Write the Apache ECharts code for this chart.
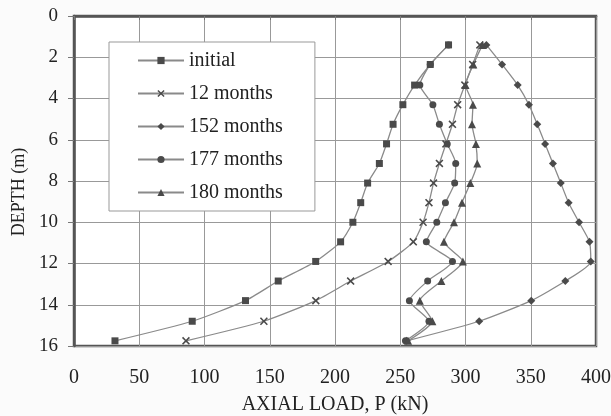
<!DOCTYPE html>
<html>
<head>
<meta charset="utf-8">
<script src="https://cdn.jsdelivr.net/npm/echarts@6/dist/echarts.min.js"></script>
<style>html,body{margin:0;padding:0;background:#fbfbfb;}#c{width:611px;height:416px;}</style>
</head>
<body>
<div id="c"></div>
<script>
const depths = [1.4, 2.35, 3.35, 4.3, 5.25, 6.2, 7.15, 8.1, 9.05, 10.0, 10.95, 11.9, 12.85, 13.8, 14.8, 15.75];
const seriesNames = ['initial', '12 months', '152 months', '177 months', '180 months'];
const loadInitial = [287, 273, 261, 252, 244.5, 239.5, 234, 225, 219.7, 213.7, 204.3, 185.2, 156.5, 131.4, 90.6, 31.4];
const load12 = [311, 305.5, 299.5, 294, 290, 285, 280, 275.5, 272, 267.5, 260, 240.7, 212, 185.3, 145.5, 85.8];
const load152 = [316, 328, 340, 348.6, 355, 361, 367, 373, 379, 387, 395, 396, 376.5, 350.4, 310.5, 255];
const load177 = [287, 273, 265, 275, 280, 286, 292.5, 291.7, 284.6, 278, 270, 290, 271, 257, 272, 254];
const load180 = [313, 306, 300, 305.7, 305, 308, 309, 303.7, 297.3, 291.2, 283.5, 298, 281.5, 265, 274.6, 256];
const xTicks = [0, 50, 100, 150, 200, 250, 300, 350, 400];
const yTicks = [0, 2, 4, 6, 8, 10, 12, 14, 16];

const loads = [loadInitial, load12, load152, load177, load180];
const xPath = 'path://M0,1.4 L1.4,0 L5,3.6 L8.6,0 L10,1.4 L6.4,5 L10,8.6 L8.6,10 L5,6.4 L1.4,10 L0,8.6 L3.6,5 Z';
const symbols = ['rect', xPath, 'diamond', 'circle', 'triangle'];
const symbolSizes = [7, 8, 8, 7, 8];
const font = '"Liberation Serif", "Times New Roman", serif';

const chart = echarts.init(document.getElementById('c'), null, {renderer: 'canvas'});
const series = seriesNames.map((name, i) => ({
  name: name,
  type: 'line',
  data: depths.map((d, j) => [loads[i][j], d]),
  symbol: symbols[i],
  symbolSize: symbolSizes[i],
  smooth: 0.2,
  lineStyle: {color: '#8a8a8a', width: 1.3},
  itemStyle: {color: '#4a4a4a'},
  z: 3
}));

chart.setOption({
  backgroundColor: '#fbfbfb',
  animation: false,
  grid: {left: 74, right: 15, top: 16, bottom: 70, outerBoundsMode: 'none', containLabel: false, show: true, backgroundColor: '#ffffff', borderColor: '#555', borderWidth: 2.5},
  xAxis: {
    type: 'value', min: xTicks[0], max: xTicks[xTicks.length - 1], interval: 50,
    name: 'AXIAL LOAD, P (kN)', nameLocation: 'middle', nameGap: 49,
    nameTextStyle: {fontFamily: font, fontSize: 20, color: '#222'},
    axisLine: {show: true, lineStyle: {color: '#555', width: 2.5}},
    axisTick: {show: true, length: 4, lineStyle: {color: '#777'}},
    axisLabel: {fontFamily: font, fontSize: 20, color: '#222', margin: 22},
    splitLine: {show: true, lineStyle: {color: '#999', width: 1}}
  },
  yAxis: {
    type: 'value', inverse: true, min: yTicks[0], max: yTicks[yTicks.length - 1], interval: 2,
    name: 'DEPTH (m)', nameLocation: 'middle', nameGap: 44,
    nameTextStyle: {fontFamily: font, fontSize: 18, color: '#222', padding: [0, 22, 0, 0]},
    axisLine: {show: true, lineStyle: {color: '#555', width: 2.5}},
    axisTick: {show: true, length: 6, lineStyle: {color: '#777'}},
    axisLabel: {fontFamily: font, fontSize: 19, color: '#222', margin: 16},
    splitLine: {show: true, lineStyle: {color: '#999', width: 1}}
  },
  legend: {
    orient: 'vertical', left: 109, top: 42,
    padding: [8, 32, 8, 28],
    backgroundColor: '#ffffff', borderColor: '#999', borderWidth: 1,
    itemWidth: 46, itemHeight: 9, itemGap: 12,
    textStyle: {fontFamily: font, fontSize: 20, color: '#222', lineHeight: 21},
    data: seriesNames
  },
  series: series
});
</script>
</body>
</html>
